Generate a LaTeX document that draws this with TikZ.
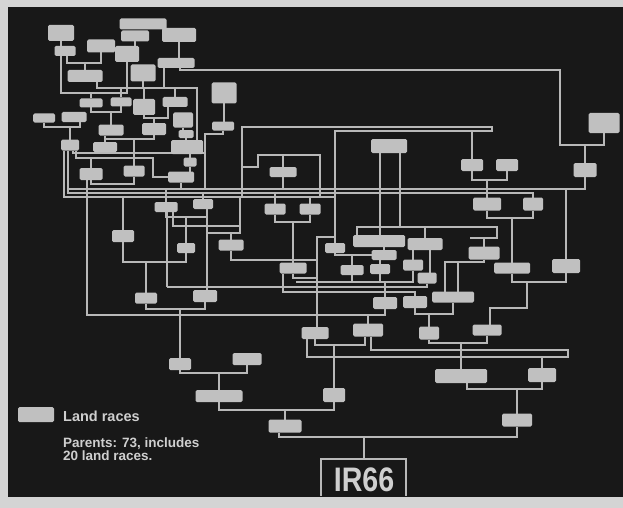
\documentclass[tikz,border=0pt]{standalone}
\usepackage{fontspec}
\setmainfont{Liberation Sans}
\pgfdeclarelayer{back}
\pgfdeclarelayer{lines}
\pgfsetlayers{back,lines,main}
\definecolor{paper}{HTML}{D4D4D4}
\definecolor{panel}{HTML}{181818}
\definecolor{wire}{HTML}{B8B8B8}
\definecolor{boxc}{HTML}{C0C0C0}
\definecolor{txt}{HTML}{CFCFCF}
\newcommand\bxn[5]{\node[bx,minimum width=#4pt,minimum height=#5pt] (#1) at (#2,#3) {};}
\begin{document}
\begin{tikzpicture}[x=1pt,y=-1pt,
  ln/.style={draw=wire,line width=2pt},
  bx/.style={fill=boxc,rounded corners=1.5pt,inner sep=0pt,outer sep=0pt}]
\useasboundingbox (0,0) rectangle (623,508);
\begin{pgfonlayer}{back}
\fill[paper] (0,0) rectangle (623,508);
\fill[panel] (8,7) rectangle (623,497);
\end{pgfonlayer}
% ---------- boxes ----------
\bxn{A1}{61}{33}{26}{16}
\bxn{A2}{143}{24}{47}{11}
\bxn{A3}{135}{36}{28}{11}
\bxn{A4}{179}{35}{34}{14}
\bxn{A5}{65}{51}{21}{10}
\bxn{A6}{101}{46}{28}{13}
\bxn{A7}{127}{54}{24}{16}
\bxn{A8}{176}{63}{37}{10}
\bxn{A9}{85}{76}{35}{12}
\bxn{A10}{143}{73}{25}{17}
\bxn{A11}{224}{93}{25}{21}
\bxn{A12}{91}{103}{23}{9}
\bxn{A13}{121}{102}{21}{9}
\bxn{A14}{144}{107}{22}{16}
\bxn{A15}{175}{102}{25}{10}
\bxn{A16}{44}{118}{22}{9}
\bxn{A17}{74}{117}{25}{10}
\bxn{A18}{183}{120}{20}{15}
\bxn{A19}{223}{126}{22}{9}
\bxn{A20}{111}{130}{25}{11}
\bxn{A21}{154}{129}{24}{12}
\bxn{A22}{186}{134}{15}{8}
\bxn{A23}{70}{145}{18}{11}
\bxn{A24}{105}{147}{24}{10}
\bxn{A25}{187}{147}{32}{14}
\bxn{A26}{190}{162}{13}{9}
\bxn{A27}{91}{174}{23}{12}
\bxn{A28}{134}{171}{21}{11}
\bxn{A29}{181}{177}{26}{11}
\bxn{A30}{283}{172}{27}{10}
\bxn{A31}{166}{207}{23}{10}
\bxn{A32}{203}{204}{20}{10}
\bxn{A33}{275}{209}{21}{11}
\bxn{A34}{310}{209}{21}{11}
\bxn{A35}{123}{236}{22}{12}
\bxn{A36}{186}{248}{18}{10}
\bxn{A37}{231}{245}{25}{11}
\bxn{B1}{389}{146}{36}{14}
\bxn{B2}{472}{165}{22}{12}
\bxn{B3}{507}{165}{22}{12}
\bxn{B4}{604}{123}{31}{20}
\bxn{B5}{585}{170}{23}{14}
\bxn{B6}{487}{204}{28}{13}
\bxn{B7}{533}{204}{20}{13}
\bxn{B9}{335}{248}{20}{10}
\bxn{B10}{379}{241}{52}{12}
\bxn{B11}{425}{244}{35}{12}
\bxn{B12}{384}{255}{25}{10}
\bxn{B13}{484}{253}{31}{13}
\bxn{B14}{512}{268}{36}{11}
\bxn{B15}{566}{266}{28}{14}
\bxn{C1}{413}{265}{20}{11}
\bxn{C2}{427}{278}{19}{11}
\bxn{C4}{415}{302}{24}{12}
\bxn{C5}{453}{297}{42}{11}
\bxn{C6}{429}{333}{20}{13}
\bxn{C7}{487}{330}{29}{11}
\bxn{D2}{293}{268}{27}{11}
\bxn{D6}{352}{270}{23}{10}
\bxn{D7}{380}{269}{20}{10}
\bxn{D8}{205}{296}{24}{12}
\bxn{D9}{385}{303}{24}{12}
\bxn{D11}{315}{333}{27}{12}
\bxn{D12}{368}{330}{30}{13}
\bxn{E8}{146}{298}{22}{11}
\bxn{F3}{180}{364}{22}{12}
\bxn{F4}{247}{359}{29}{12}
\bxn{F5}{219}{396}{47}{12}
\bxn{F6}{334}{395}{22}{14}
\bxn{F7}{285}{426}{33}{13}
\bxn{G3}{461}{376}{52}{14}
\bxn{G4}{542}{375}{28}{14}
\bxn{G5}{517}{420}{30}{13}
% legend and title
\node[bx,minimum width=36pt,minimum height=15pt] (leg) at (36,414.5) {};
\node[anchor=west,text=txt,inner sep=0pt,font=\bfseries\fontsize{14.5}{14}\selectfont] (legt) at (63,416) {Land races};
\node[anchor=north west,align=left,text=txt,inner sep=0pt,font=\bfseries\fontsize{13.5}{12.5}\selectfont] (par) at (63,438) {Parents: 73, includes\\20 land races.};
\node[text=txt,inner sep=0pt,xscale=0.84,font=\bfseries\fontsize{34}{34}\selectfont] (ir) at (364,480) {IR66};
\coordinate (irL) at (321,496);
\coordinate (irR) at (406,496);
\coordinate (irT) at (364,459);
% ---------- connectors ----------
\begin{pgfonlayer}{lines}
% top-left cluster
\draw[ln] (A1.south) -- (A1.south |- A5.north);
\draw[ln] ([xshift=2pt]A5.south) |- (A6.south |- 0,63) -- (A6.south);
\draw[ln] (A9.north) -- (A9.north |- 0,63);
\draw[ln] ([xshift=-4pt]A5.south) |- (A7.south |- 0,93) -- (A7.south);
\draw[ln] (A12.north) -- (A12.north |- 0,93);
\draw[ln] (A3.south) -- (A3.south |- A7.north);
\draw[ln] (A4.south) -- (A4.south |- A8.north);
\draw[ln] ([xshift=12pt]A9.south) |- (197,88) -- (A25.north -| 197,0);
\draw[ln] ([xshift=-12pt]A8.south) -- ([xshift=-12pt]A8.south |- 0,88);
\draw[ln] (A10.south) -- (A10.south |- 0,88);
\draw[ln] (A13.north) -- (A13.north |- 0,88);
\draw[ln] (A14.north) -- (A14.north |- 0,88);
\draw[ln] (A15.north) -- (A15.north |- 0,88);
\draw[ln] (A12.south) |- (A13.south |- 0,112) -- (A13.south);
\draw[ln] (A20.north) -- (A20.north |- 0,112);
\draw[ln] (A14.south) |- ([xshift=-7pt]A15.south |- 0,118) -- ([xshift=-7pt]A15.south);
\draw[ln] (A21.north) -- (A21.north |- 0,118);
\draw[ln] (A16.south) |- ([xshift=6pt]A17.south |- 0,127) -- ([xshift=6pt]A17.south);
\draw[ln] (A23.north) -- (A23.north |- 0,127);
\draw[ln] (A11.south) -- (A11.south |- A19.north);
\draw[ln] (A19.south) |- (205,134) -- (205,189);
\draw[ln] (A18.south) -- (A18.south |- A22.north);
\draw[ln] (A22.south) -- (A22.south |- A25.north);
\draw[ln] (A26.north) -- (A26.north |- A25.south);
\draw[ln] (A26.south) -- (A26.south |- A29.north);
\draw[ln] ([xshift=-6pt]A20.south) |- (A21.south |- 0,139) -- (A21.south);
\draw[ln] (A24.north) -- (A24.north |- 0,139);
\draw[ln] (A28.north) -- (A28.north |- 0,139);
\draw[ln] ([xshift=3pt]A23.south) |- (205,153);
\draw[ln] ([xshift=6pt]A23.south) |- (153,158) |- (A29.west);
\draw[ln] (A27.north) -- (A27.north |- 0,158);
\draw[ln] (A27.south) |- (A28.south |- 0,184) -- (A28.south);
\draw[ln] ([xshift=-4pt]A27.south) -- ([xshift=-4pt]A27.south |- 0,315) -- (D9.south |- 0,315) -- (D9.south);
\draw[ln] (A29.south) -- (A29.south |- 0,189);
\draw[ln] (A30.south) -- (A30.south |- 0,189);
\draw[ln] (A30.north) -- (A30.north |- 0,155);
% buses
\draw[ln] ([xshift=-2pt]A23.south) -- ([xshift=-2pt]A23.south |- 0,193) -- (B7.north |- 0,193) -- (B7.north);
\draw[ln] ([xshift=-2pt]A23.south |- 0,189) -- (B5.south |- 0,189) -- (B5.south);
\draw[ln] ([xshift=-6pt]A23.south) -- ([xshift=-6pt]A23.south |- 0,197) -- (335,197);
% long line to the right
\draw[ln] ([xshift=4pt]A8.south) |- (560,70) |- (B4.south |- 0,145) -- (B4.south);
\draw[ln] (B5.north) -- (B5.north |- 0,145);
\draw[ln] (B15.north) -- (B15.north |- 0,189);
% double line
\draw[ln] (242,197) |- (492,127) -- (492,131) -| (B9.north);
\draw[ln] (B2.north) -- (B2.north |- 0,131);
\draw[ln] (242,167) -| (258,155) -| (320,197);
% B1 and right part
\draw[ln] ([xshift=-9pt]B1.south) -- ([xshift=-9pt]B1.south |- B10.north);
\draw[ln] ([xshift=11pt]B1.south) |- (497,227) |- (470,238);
\draw[ln] ([xshift=-22pt]B10.north) |- (400,227);
\draw[ln] (B13.north) -- (B13.north |- 0,238);
\draw[ln] (B11.north) -- (B11.north |- 0,227);
\draw[ln] (B12.north) -- (B12.north |- B10.south);
\draw[ln] (D7.north) -- (D7.north |- B12.south);
\draw[ln] (B9.south) |- (B12.west);
\draw[ln] (D6.north) -- (D6.north |- B12.west);
\draw[ln] (C1.north) -- (C1.north |- B11.south);
\draw[ln] ([xshift=3pt]C2.north) -- ([xshift=3pt]C2.north |- B11.south);
\draw[ln] (B2.south) |- (B3.south |- 0,180) -- (B3.south);
\draw[ln] (B6.north) -- (B6.north |- 0,180);
\draw[ln] (B6.south) |- (B7.south |- 0,218) -- (B7.south);
\draw[ln] (B14.north) -- (B14.north |- 0,218);
\draw[ln] (B13.south) |- ([xshift=-8pt]C5.north |- 0,262) -- ([xshift=-8pt]C5.north);
\draw[ln] ([xshift=5pt]C5.north) -- ([xshift=5pt]C5.north |- 0,262);
\draw[ln] (B14.south) |- (B15.south |- 0,282) -- (B15.south);
\draw[ln] (527,282) |- ([xshift=3pt]C7.north |- 0,308) -- ([xshift=3pt]C7.north);
% middle horizontals
\draw[ln] (C1.south) |- (296,282);
\draw[ln] (D6.south) -- (D6.south |- 0,282);
\draw[ln] (D7.south) -- (D7.south |- 0,282);
\draw[ln] (D9.north) -- (D9.north |- 0,282);
\draw[ln] (C2.south) |- (167,287);
\draw[ln] ([xshift=1pt]A31.south) -- ([xshift=1pt]A31.south |- 0,287);
\draw[ln] ([xshift=-10pt]D2.south) |- (C4.north |- 0,292) -- (C4.north);
\draw[ln] (D2.south) |- (317,278);
\draw[ln] ([xshift=2pt]D11.north) |- (B9.north |- 0,237);
\draw[ln] (A37.south) |- (317,260);
\draw[ln] (A33.south) |- (A34.south |- 0,222) -- (A34.south);
\draw[ln] (D2.north) -- (D2.north |- 0,222);
\draw[ln] (A33.north) -- (A33.north |- 0,193);
\draw[ln] (A34.north) -- (A34.north |- 0,197);
\draw[ln] (A31.north) -- (A31.north |- 0,189);
\draw[ln] (A32.north) -- (A32.north |- 0,193);
\draw[ln] (A35.north) -- (A35.north |- 0,197);
\draw[ln] (A31.south) |- ([xshift=4pt]A32.south |- 0,217) -- ([xshift=4pt]A32.south);
\draw[ln] (A36.north) -- (A36.north |- 0,217);
\draw[ln] ([xshift=2pt]D8.north) -- ([xshift=2pt]D8.north |- A32.south);
\draw[ln] (240,197) |- ([xshift=2pt]D8.north |- 0,233);
\draw[ln] (A37.north) -- (A37.north |- 0,233);
\draw[ln] ([xshift=7pt]A31.south) |- (240,226);
\draw[ln] (A35.south) |- (A36.south |- 0,262) -- (A36.south);
\draw[ln] (E8.north) -- (E8.north |- 0,262);
% lower tree
\draw[ln] (E8.south) |- (D8.south |- 0,309) -- (D8.south);
\draw[ln] (F3.north) -- (F3.north |- 0,309);
\draw[ln] (D12.north) -- (D12.north |- 0,315);
\draw[ln] (C4.south) |- (C5.south |- 0,314) -- (C5.south);
\draw[ln] (C6.north) -- (C6.north |- 0,314);
\draw[ln] (F3.south) |- (F4.south |- 0,373) -- (F4.south);
\draw[ln] (F5.north) -- (F5.north |- 0,373);
\draw[ln] (D11.south) |- ([xshift=-3pt]D12.south |- 0,345) -- ([xshift=-3pt]D12.south);
\draw[ln] (F6.north) -- (F6.north |- 0,345);
\draw[ln] ([xshift=3pt]D12.south) |- (568,350) |- ([xshift=-8pt]D11.south |- 0,357) -- ([xshift=-8pt]D11.south);
\draw[ln] (G4.north) -- (G4.north |- 0,357);
\draw[ln] (C6.south) |- (C7.south |- 0,343) -- (C7.south);
\draw[ln] (G3.north) -- (G3.north |- 0,343);
\draw[ln] ([xshift=6pt]G3.south) |- (G4.south |- 0,389) -- (G4.south);
\draw[ln] (G5.north) -- (G5.north |- 0,389);
\draw[ln] (F5.south) |- (F6.south |- 0,410) -- (F6.south);
\draw[ln] (F7.north) -- (F7.north |- 0,410);
\draw[ln] ([xshift=-6pt]F7.south) |- (G5.south |- 0,437) -- (G5.south);
\draw[ln] (irT |- 0,437) -- (irT);
\draw[draw=wire,line width=2.5pt] (irL) |- (irT) -| (irR);
\end{pgfonlayer}
\end{tikzpicture}
\end{document}
